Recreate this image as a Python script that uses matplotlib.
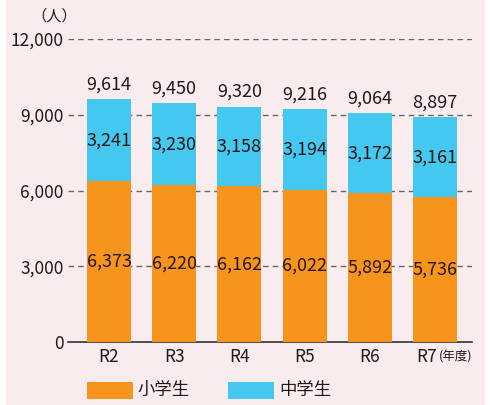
import matplotlib
matplotlib.use("Agg")
import matplotlib.pyplot as plt
from matplotlib.patches import Rectangle
import matplotlib.transforms as mtransforms
import numpy as np

plt.rcParams["font.family"] = ["Noto Sans CJK JP", "DejaVu Sans"]

years = ["R2", "R3", "R4", "R5", "R6", "R7"]
elementary = [6373, 6220, 6162, 6022, 5892, 5736]
junior = [3241, 3230, 3158, 3194, 3172, 3161]
totals = [9614, 9450, 9320, 9216, 9064, 8897]
yticks = [0, 3000, 6000, 9000, 12000]

ORANGE = "#F7941D"
BLUE = "#45C8F0"
BG = "#F9ECEF"
TEXT = "#231815"

W, H = 491, 405
fig = plt.figure(figsize=(W / 100, H / 100), dpi=100)
fig.patch.set_facecolor("white")
# pink panel behind everything
fig.patches.append(Rectangle((6 / W, 0), 479 / W, 1, transform=fig.transFigure,
                             facecolor=BG, edgecolor="none", zorder=-10))

ax = fig.add_axes([68 / W, (H - 342) / H, (472 - 68) / W, (342 - 39) / H])
ax.set_facecolor("none")

x = np.arange(len(years))
width = 0.675
ax.bar(x, elementary, width, color=ORANGE, zorder=3)
ax.bar(x, junior, width, bottom=elementary, color=BLUE, zorder=3)

for i in range(len(years)):
    ax.text(x[i], elementary[i] / 2, f"{elementary[i]:,}", ha="center", va="center",
            fontsize=13, color=TEXT, zorder=4)
    ax.text(x[i], elementary[i] + junior[i] / 2, f"{junior[i]:,}", ha="center",
            va="center", fontsize=13, color=TEXT, zorder=4)
    ax.text(x[i], totals[i] + 230, f"{totals[i]:,}", ha="center", va="bottom",
            fontsize=13, color=TEXT, zorder=4)

ax.set_xlim(-0.63, 5.57)
ax.set_ylim(0, 12000)
ax.set_yticks(yticks)
ax.set_yticklabels([f"{v:,}" for v in yticks], fontsize=12.5, color=TEXT)
ax.tick_params(axis="y", length=0, pad=3)
ax.set_xticks([])

# x labels; last one nudged left to make room for (年度)
xtrans = mtransforms.blended_transform_factory(ax.transData, fig.transFigure)
for i, lab in enumerate(years):
    xpos = x[i] - (0.12 if i == len(years) - 1 else 0)
    ax.text(xpos, 1 - 357 / H, lab, transform=xtrans, ha="center", va="center",
            fontsize=12.5, color=TEXT)
fig.text(439 / W, 1 - 357 / H, "(年度)", fontsize=9, color=TEXT, ha="left", va="center")

for v in yticks[1:]:
    ax.axhline(v, color="#666666", linestyle=(0, (4, 3)), linewidth=1.0, zorder=1)

for s in ["top", "right", "left"]:
    ax.spines[s].set_visible(False)
ax.spines["bottom"].set_color("#333333")
ax.spines["bottom"].set_linewidth(1.2)

fig.text(54 / W, 1 - 16 / H, "（人）", fontsize=11, color=TEXT, ha="center", va="center")

# legend
fig.patches.append(Rectangle((87 / W, 1 - 399 / H), 46 / W, 17 / H,
                             transform=fig.transFigure, facecolor=ORANGE, edgecolor="none"))
fig.text(137 / W, 1 - 390 / H, "小学生", fontsize=12.5, color=TEXT, ha="left", va="center")
fig.patches.append(Rectangle((228 / W, 1 - 399 / H), 46 / W, 17 / H,
                             transform=fig.transFigure, facecolor=BLUE, edgecolor="none"))
fig.text(279 / W, 1 - 390 / H, "中学生", fontsize=12.5, color=TEXT, ha="left", va="center")

fig.savefig("out.png", dpi=100)
plt.close(fig)
